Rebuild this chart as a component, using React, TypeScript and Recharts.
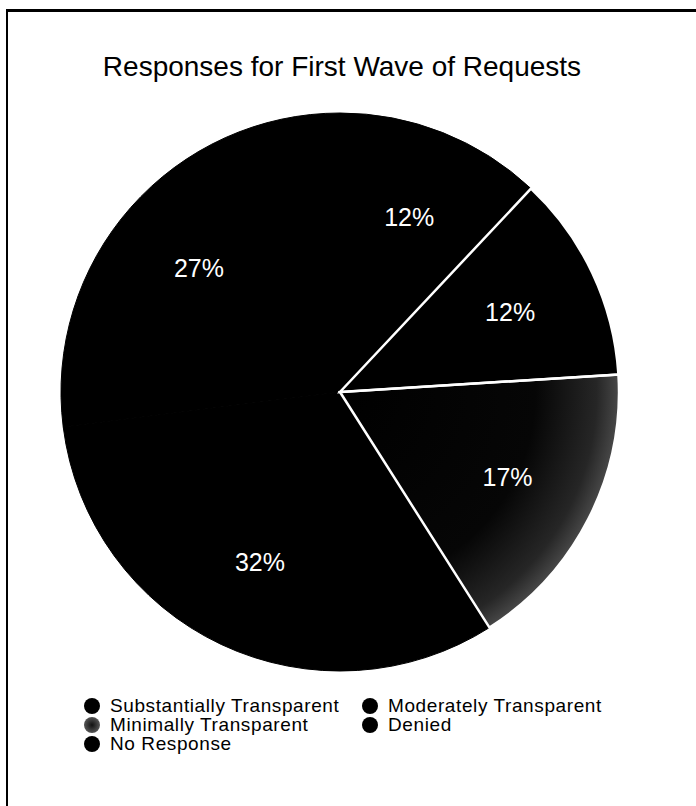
import { PieChart, Pie, Cell, Legend } from 'recharts'

const categories = [
  'Substantially Transparent',
  'Moderately Transparent',
  'Minimally Transparent',
  'Denied',
  'No Response',
]
const shares = [12, 12, 17, 32, 27]
const sliceFills = ['#000', '#000', 'url(#minimalSlice)', '#000', '#000']
const dotFills = ['#000', '#000', 'url(#minimalDot)', '#000', '#000']
// white separators only where the printed chart shows them
const edgeColors = ['none', '#fff', '#fff', 'none', 'none']

const data = categories.map((name, i) => ({ name, value: shares[i] }))

const FONT = '"Liberation Sans", Arial, Helvetica, sans-serif'
const CX = 340
const CY = 392
const R = 279
const RAD = Math.PI / 180

function renderLabel(props: any) {
  const { cx, cy, midAngle, value } = props
  const r = 188
  const x = cx + r * Math.cos(-midAngle * RAD)
  const y = cy + r * Math.sin(-midAngle * RAD)
  return (
    <text
      x={x}
      y={y}
      fill="#fff"
      fontSize={25}
      fontFamily={FONT}
      textAnchor="middle"
      dominantBaseline="central"
    >
      {value}%
    </text>
  )
}

function LegendGrid() {
  return (
    <div
      style={{
        display: 'grid',
        gridTemplateColumns: '278px 300px',
        fontFamily: FONT,
        fontSize: 19,
        letterSpacing: 0.6,
        lineHeight: '19px',
        color: '#000',
      }}
    >
      {categories.map((name, i) => (
        <div key={name} style={{ display: 'flex', alignItems: 'center', height: 19 }}>
          <svg width={16} height={16} style={{ marginRight: 10, flex: 'none' }}>
            <circle cx={8} cy={8} r={8} fill={dotFills[i]} />
          </svg>
          <span style={{ whiteSpace: 'nowrap' }}>{name}</span>
        </div>
      ))}
    </div>
  )
}

export default function App() {
  return (
    <div style={{ position: 'absolute', left: 0, top: 0, width: 696, height: 806, overflow: 'hidden', background: '#fff' }}>
      <svg width={0} height={0} style={{ position: 'absolute' }}>
        <defs>
          <radialGradient id="minimalSlice" gradientUnits="userSpaceOnUse" cx={CX} cy={CY} r={R}>
            <stop offset="0" stopColor="#000" />
            <stop offset="0.7" stopColor="#060606" />
            <stop offset="0.92" stopColor="#262626" />
            <stop offset="1" stopColor="#484848" />
          </radialGradient>
          <radialGradient id="minimalDot">
            <stop offset="0" stopColor="#111" />
            <stop offset="1" stopColor="#555" />
          </radialGradient>
        </defs>
      </svg>
      <div
        style={{
          position: 'absolute',
          left: 6,
          top: 9,
          width: 690,
          height: 797,
          boxSizing: 'border-box',
          borderTop: '3px solid #000',
          borderLeft: '2px solid #000',
        }}
      />
      <div
        style={{
          position: 'absolute',
          left: 0,
          top: 52,
          width: 684,
          textAlign: 'center',
          fontFamily: FONT,
          fontSize: 28,
          lineHeight: '30px',
          color: '#000',
        }}
      >
        Responses for First Wave of Requests
      </div>
      <div style={{ position: 'absolute', left: 0, top: 0 }}>
        <PieChart width={696} height={806} margin={{ top: 0, right: 0, bottom: 0, left: 0 }}>
          <Pie
            data={data}
            dataKey="value"
            nameKey="name"
            cx={CX}
            cy={CY}
            outerRadius={R}
            startAngle={90}
            endAngle={-270}
            label={renderLabel}
            labelLine={false}
            isAnimationActive={false}
          >
            {data.map((d, i) => (
              <Cell key={d.name} fill={sliceFills[i]} stroke={i === 2 ? 'none' : '#000'} strokeWidth={1} />
            ))}
          </Pie>
          <Pie
            data={data}
            dataKey="value"
            nameKey="name"
            cx={CX}
            cy={CY}
            outerRadius={R}
            startAngle={90}
            endAngle={-270}
            fill="none"
            label={false}
            labelLine={false}
            legendType="none"
            isAnimationActive={false}
          >
            {data.map((d, i) => (
              <Cell key={d.name} fill="none" stroke={edgeColors[i]} strokeWidth={2.5} />
            ))}
          </Pie>
          <Legend content={<LegendGrid />} wrapperStyle={{ left: 84, top: 696, width: 610 }} />
        </PieChart>
      </div>
    </div>
  )
}
